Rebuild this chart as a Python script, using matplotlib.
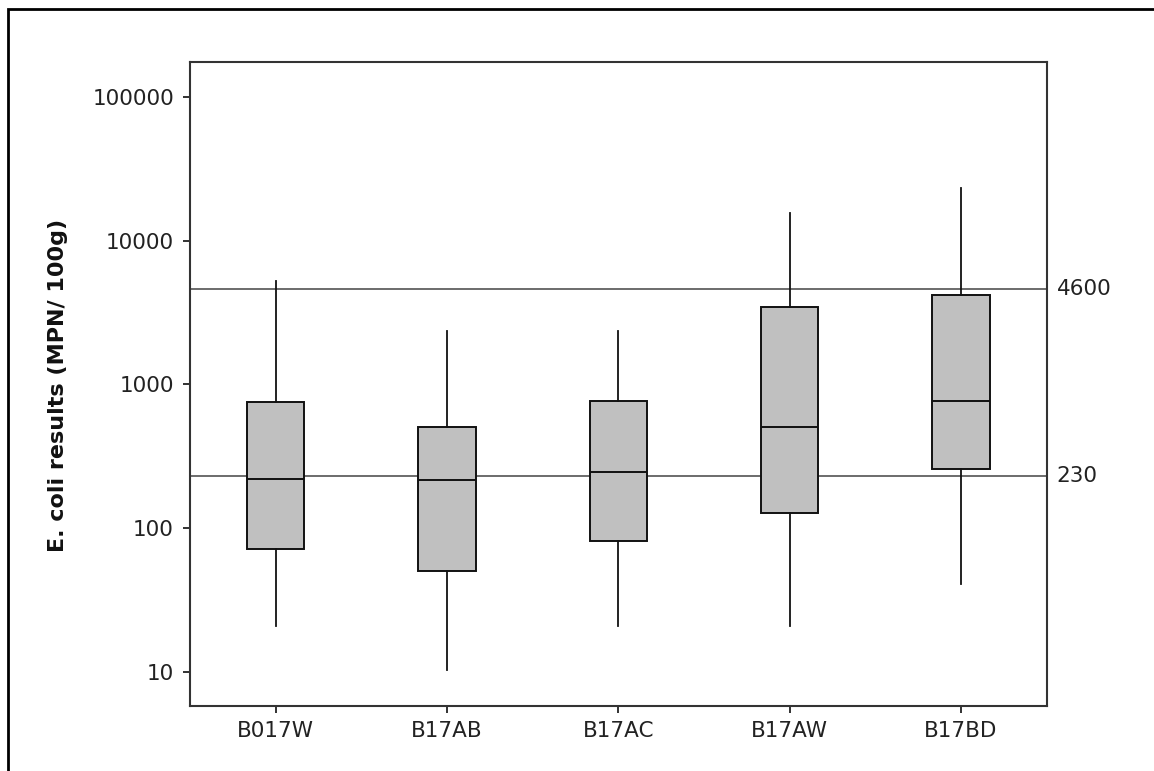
import matplotlib
matplotlib.use("Agg")
import matplotlib.pyplot as plt
from matplotlib.patches import Rectangle
from matplotlib.transforms import offset_copy

# ---- data ----
sites = ["B017W", "B17AB", "B17AC", "B17AW", "B17BD"]
whisker_low = [20.8, 10.2, 20.8, 20.8, 40.7]
q1 = [71, 50, 81, 127, 258]
median = [219, 217, 247, 502, 766]
q3 = [757, 502, 766, 3440, 4170]
whisker_high = [5270, 2360, 2360, 15700, 23150]
ref_values = [4600, 230]
ref_labels = ["4600", "230"]
y_ticks = [10, 100, 1000, 10000, 100000]
y_tick_labels = ["10", "100", "1000", "10000", "100000"]

plt.rcParams['font.family'] = ['DejaVu Sans']

W, H = 1154, 771
fig = plt.figure(figsize=(W / 100, H / 100), dpi=100)
ax = fig.add_axes([190 / W, 1 - 706 / H, (1046.5 - 190) / W, (706 - 62) / H])

stats = []
for i, s in enumerate(sites):
    stats.append(dict(label=s, whislo=whisker_low[i], q1=q1[i], med=median[i],
                      q3=q3[i], whishi=whisker_high[i], fliers=[]))

positions = list(range(len(sites)))
ax.bxp(stats, positions=positions, widths=0.335, showfliers=False,
       showcaps=False, patch_artist=True,
       boxprops=dict(facecolor="#c0c0c0", edgecolor="#111111", linewidth=1.4),
       medianprops=dict(color="#111111", linewidth=1.4),
       whiskerprops=dict(color="#111111", linewidth=1.3))

for v, lab in zip(ref_values, ref_labels):
    ax.axhline(v, color="#444444", linewidth=1.1, zorder=0.5)
    ax.text(1.0, v, lab, transform=offset_copy(ax.get_yaxis_transform(), fig=fig, x=10, units='dots'),
            va="center", ha="left", fontsize=15.5, color="#222222")

ax.set_yscale("log")
ax.set_ylim(5.77, 175200)
ax.set_xlim(-0.5, 4.5)
ax.set_yticks(y_ticks)
ax.set_yticklabels(y_tick_labels)
ax.yaxis.set_minor_locator(matplotlib.ticker.NullLocator())
ax.set_xticks(positions)
ax.set_xticklabels(sites)
ax.tick_params(axis="both", direction="out", length=5, width=1.3, color="#222222",
               labelsize=15.5, labelcolor="#222222")
ax.tick_params(axis="y", pad=6.5)
ax.tick_params(axis="x", pad=6)

for sp in ax.spines.values():
    sp.set_linewidth(1.5)
    sp.set_color("#333333")

ax.set_ylabel("E. coli results (MPN/ 100g)", fontsize=16, fontweight="bold",
              color="#111111")
ax.yaxis.set_label_coords(58 / W, 0.5, transform=fig.transFigure)
ax.yaxis.label.set_verticalalignment("center")
ax.yaxis.label.set_horizontalalignment("center")

# outer figure frame (only left and top edges visible)
fig.patches.append(Rectangle((8 / W, -0.1), 1.2, 1 - 9 / H + 0.1, transform=fig.transFigure,
                             fill=False, edgecolor="black", linewidth=2, clip_on=False))

fig.savefig("out.png", dpi=100)
